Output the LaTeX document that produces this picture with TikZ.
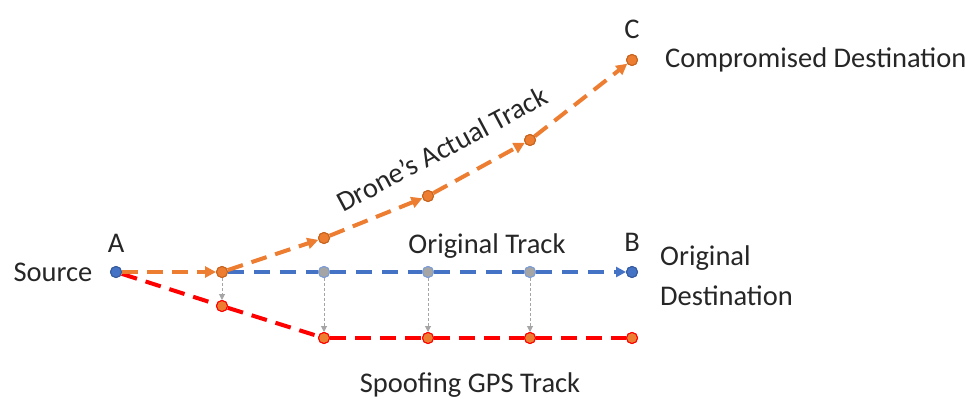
\documentclass[tikz,border=0pt]{standalone}
\usepackage{fontspec}
\setmainfont{Carlito}
\usetikzlibrary{arrows.meta}
\definecolor{trkorange}{HTML}{ED7D31}
\definecolor{trkorangedark}{HTML}{C5641F}
\definecolor{trkblue}{HTML}{4472C4}
\definecolor{trkred}{HTML}{FF0000}
\definecolor{trkgrey}{HTML}{A5A5A5}
\begin{document}
\begin{tikzpicture}[x=1pt,y=-1pt,
  dot/.style={circle,inner sep=0pt,minimum size=11pt,line width=1pt},
  odot/.style={dot,fill=trkorange,draw=trkorangedark},
  bdot/.style={dot,fill=trkblue,draw=trkblue!80!black},
  gdot/.style={dot,fill=trkgrey,draw=trkblue!70},
  rdot/.style={dot,fill=trkorange,draw=trkred},
  dashline/.style={line width=4pt,dash pattern=on 16pt off 9pt},
  otrack/.style={dashline,draw=trkorange,-{Triangle[length=11pt,width=11pt]}},
  btrack/.style={line width=3.5pt,dash pattern=on 16pt off 10pt,draw=trkblue},
  rtrack/.style={dashline,draw=trkred},
  offsetarrow/.style={draw=trkgrey,line width=1pt,dash pattern=on 3pt off 2pt,-{Triangle[length=6pt,width=6pt]}},
  lbl/.style={font=\fontsize{28.5}{40}\selectfont,text=black!85,inner sep=0pt}
]
\useasboundingbox (0,0) rectangle (973,401);

% track points
\node[bdot] (A) at (116,272) {};
\node[odot] (P1) at (222,272) {};
\node[odot] (P2) at (324,238) {};
\node[odot] (P3) at (428,196) {};
\node[odot] (P4) at (530,140) {};
\node[odot] (C) at (632,60) {};
\node[gdot] (G1) at (324,272) {};
\node[gdot] (G2) at (428,272) {};
\node[gdot] (G3) at (530,272) {};
\node[bdot] (B) at (632,272) {};
\node[rdot] (R1) at (222,306) {};
\node[rdot] (R2) at (324,338) {};
\node[rdot] (R3) at (428,338) {};
\node[rdot] (R4) at (530,338) {};
\node[rdot] (R5) at (632,338) {};

% original track (blue)
\draw[btrack] (P1) -- (G1);
\draw[btrack] (G1) -- (G2);
\draw[btrack] (G2) -- (G3);
\draw[btrack,-{Triangle[length=10pt,width=10pt]}] (G3) -- (B);

% spoofed GPS track (red)
\draw[rtrack] (A) -- (R1);
\draw[rtrack] (R1) -- (R2);
\draw[rtrack] (R2) -- (R3);
\draw[rtrack] (R3) -- (R4);
\draw[rtrack] (R4) -- (R5);

% actual track (orange)
\draw[otrack] (A) -- (P1);
\draw[otrack] (P1) -- (P2);
\draw[otrack] (P2) -- (P3);
\draw[otrack] (P3) -- (P4);
\draw[otrack] (P4) -- (C);

% offsets between true and spoofed positions
\draw[offsetarrow] (P1) -- (R1);
\draw[offsetarrow] (G1) -- (R2);
\draw[offsetarrow] (G2) -- (R3);
\draw[offsetarrow] (G3) -- (R4);

% redraw points on top of the lines
\foreach \n/\s in {A/bdot,P1/odot,P2/odot,P3/odot,P4/odot,C/odot,G1/gdot,G2/gdot,G3/gdot,B/bdot,R1/rdot,R2/rdot,R3/rdot,R4/rdot,R5/rdot}
  \node[\s] at (\n) {};

% labels
\node[lbl] (src) at (53,272) {Source};
\node[lbl] (la) at (116,243) {A};
\node[lbl] (lb) at (632,242) {B};
\node[lbl] (lc) at (632,29) {C};
\node[lbl,anchor=west] (cd) at (665,60) {Compromised Destination};
\node[lbl,anchor=west,align=left] (od) at (660,276) {Original\\Destination};
\node[lbl] (ot) at (487,246) {Original Track};
\node[lbl] (st) at (470,385) {Spoofing GPS Track};
\node[lbl,rotate=28] (dt) at (442,149) {Drone’s Actual Track};
\end{tikzpicture}
\end{document}
